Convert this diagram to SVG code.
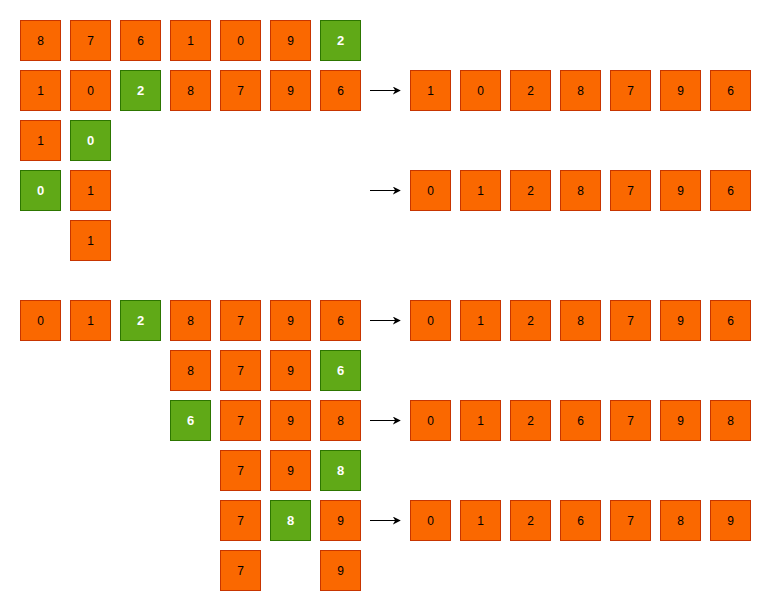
<svg xmlns="http://www.w3.org/2000/svg" width="771" height="611" viewBox="0 0 771 611">
<style>
.o rect{fill:#fa6800;stroke:#c73500;stroke-width:1}
.g rect{fill:#60a917;stroke:#2d7600;stroke-width:1}
text{font-family:"Liberation Sans",Arial,sans-serif;text-anchor:middle;dominant-baseline:central}
.o text{font-size:12px;fill:#000}
.g text{font-size:13px;fill:#fff;font-weight:bold}
.c line{stroke:#000;stroke-width:1;marker-end:url(#a)}
</style>
<defs>
<marker id="a" viewBox="0 0 10 10" refX="9" refY="5" markerWidth="8" markerHeight="8" markerUnits="userSpaceOnUse" orient="auto"><path d="M0,0 L10,5 L0,10 L3,5 Z" fill="#000"/></marker>
</defs>
<rect width="771" height="611" fill="#fff"/>
<g id="r1">
<g id="n1_0" class="o"><rect x="20.5" y="20.5" width="40" height="40"/><text x="40.5" y="40.5">8</text></g>
<g id="n1_1" class="o"><rect x="70.5" y="20.5" width="40" height="40"/><text x="90.5" y="40.5">7</text></g>
<g id="n1_2" class="o"><rect x="120.5" y="20.5" width="40" height="40"/><text x="140.5" y="40.5">6</text></g>
<g id="n1_3" class="o"><rect x="170.5" y="20.5" width="40" height="40"/><text x="190.5" y="40.5">1</text></g>
<g id="n1_4" class="o"><rect x="220.5" y="20.5" width="40" height="40"/><text x="240.5" y="40.5">0</text></g>
<g id="n1_5" class="o"><rect x="270.5" y="20.5" width="40" height="40"/><text x="290.5" y="40.5">9</text></g>
<g id="n1_6" class="g"><rect x="320.5" y="20.5" width="40" height="40"/><text x="340.5" y="40.5">2</text></g>
</g>
<g id="r2">
<g id="n2_0" class="o"><rect x="20.5" y="70.5" width="40" height="40"/><text x="40.5" y="90.5">1</text></g>
<g id="n2_1" class="o"><rect x="70.5" y="70.5" width="40" height="40"/><text x="90.5" y="90.5">0</text></g>
<g id="n2_2" class="g"><rect x="120.5" y="70.5" width="40" height="40"/><text x="140.5" y="90.5">2</text></g>
<g id="n2_3" class="o"><rect x="170.5" y="70.5" width="40" height="40"/><text x="190.5" y="90.5">8</text></g>
<g id="n2_4" class="o"><rect x="220.5" y="70.5" width="40" height="40"/><text x="240.5" y="90.5">7</text></g>
<g id="n2_5" class="o"><rect x="270.5" y="70.5" width="40" height="40"/><text x="290.5" y="90.5">9</text></g>
<g id="n2_6" class="o"><rect x="320.5" y="70.5" width="40" height="40"/><text x="340.5" y="90.5">6</text></g>
<g id="m2_0" class="o"><rect x="410.5" y="70.5" width="40" height="40"/><text x="430.5" y="90.5">1</text></g>
<g id="m2_1" class="o"><rect x="460.5" y="70.5" width="40" height="40"/><text x="480.5" y="90.5">0</text></g>
<g id="m2_2" class="o"><rect x="510.5" y="70.5" width="40" height="40"/><text x="530.5" y="90.5">2</text></g>
<g id="m2_3" class="o"><rect x="560.5" y="70.5" width="40" height="40"/><text x="580.5" y="90.5">8</text></g>
<g id="m2_4" class="o"><rect x="610.5" y="70.5" width="40" height="40"/><text x="630.5" y="90.5">7</text></g>
<g id="m2_5" class="o"><rect x="660.5" y="70.5" width="40" height="40"/><text x="680.5" y="90.5">9</text></g>
<g id="m2_6" class="o"><rect x="710.5" y="70.5" width="40" height="40"/><text x="730.5" y="90.5">6</text></g>
</g>
<g id="r3">
<g id="n3_0" class="o"><rect x="20.5" y="120.5" width="40" height="40"/><text x="40.5" y="140.5">1</text></g>
<g id="n3_1" class="g"><rect x="70.5" y="120.5" width="40" height="40"/><text x="90.5" y="140.5">0</text></g>
</g>
<g id="r4">
<g id="n4_0" class="g"><rect x="20.5" y="170.5" width="40" height="40"/><text x="40.5" y="190.5">0</text></g>
<g id="n4_1" class="o"><rect x="70.5" y="170.5" width="40" height="40"/><text x="90.5" y="190.5">1</text></g>
<g id="m4_0" class="o"><rect x="410.5" y="170.5" width="40" height="40"/><text x="430.5" y="190.5">0</text></g>
<g id="m4_1" class="o"><rect x="460.5" y="170.5" width="40" height="40"/><text x="480.5" y="190.5">1</text></g>
<g id="m4_2" class="o"><rect x="510.5" y="170.5" width="40" height="40"/><text x="530.5" y="190.5">2</text></g>
<g id="m4_3" class="o"><rect x="560.5" y="170.5" width="40" height="40"/><text x="580.5" y="190.5">8</text></g>
<g id="m4_4" class="o"><rect x="610.5" y="170.5" width="40" height="40"/><text x="630.5" y="190.5">7</text></g>
<g id="m4_5" class="o"><rect x="660.5" y="170.5" width="40" height="40"/><text x="680.5" y="190.5">9</text></g>
<g id="m4_6" class="o"><rect x="710.5" y="170.5" width="40" height="40"/><text x="730.5" y="190.5">6</text></g>
</g>
<g id="r5">
<g id="n5_1" class="o"><rect x="70.5" y="220.5" width="40" height="40"/><text x="90.5" y="240.5">1</text></g>
</g>
<g id="r6">
<g id="n6_0" class="o"><rect x="20.5" y="300.5" width="40" height="40"/><text x="40.5" y="320.5">0</text></g>
<g id="n6_1" class="o"><rect x="70.5" y="300.5" width="40" height="40"/><text x="90.5" y="320.5">1</text></g>
<g id="n6_2" class="g"><rect x="120.5" y="300.5" width="40" height="40"/><text x="140.5" y="320.5">2</text></g>
<g id="n6_3" class="o"><rect x="170.5" y="300.5" width="40" height="40"/><text x="190.5" y="320.5">8</text></g>
<g id="n6_4" class="o"><rect x="220.5" y="300.5" width="40" height="40"/><text x="240.5" y="320.5">7</text></g>
<g id="n6_5" class="o"><rect x="270.5" y="300.5" width="40" height="40"/><text x="290.5" y="320.5">9</text></g>
<g id="n6_6" class="o"><rect x="320.5" y="300.5" width="40" height="40"/><text x="340.5" y="320.5">6</text></g>
<g id="m6_0" class="o"><rect x="410.5" y="300.5" width="40" height="40"/><text x="430.5" y="320.5">0</text></g>
<g id="m6_1" class="o"><rect x="460.5" y="300.5" width="40" height="40"/><text x="480.5" y="320.5">1</text></g>
<g id="m6_2" class="o"><rect x="510.5" y="300.5" width="40" height="40"/><text x="530.5" y="320.5">2</text></g>
<g id="m6_3" class="o"><rect x="560.5" y="300.5" width="40" height="40"/><text x="580.5" y="320.5">8</text></g>
<g id="m6_4" class="o"><rect x="610.5" y="300.5" width="40" height="40"/><text x="630.5" y="320.5">7</text></g>
<g id="m6_5" class="o"><rect x="660.5" y="300.5" width="40" height="40"/><text x="680.5" y="320.5">9</text></g>
<g id="m6_6" class="o"><rect x="710.5" y="300.5" width="40" height="40"/><text x="730.5" y="320.5">6</text></g>
</g>
<g id="r7">
<g id="n7_3" class="o"><rect x="170.5" y="350.5" width="40" height="40"/><text x="190.5" y="370.5">8</text></g>
<g id="n7_4" class="o"><rect x="220.5" y="350.5" width="40" height="40"/><text x="240.5" y="370.5">7</text></g>
<g id="n7_5" class="o"><rect x="270.5" y="350.5" width="40" height="40"/><text x="290.5" y="370.5">9</text></g>
<g id="n7_6" class="g"><rect x="320.5" y="350.5" width="40" height="40"/><text x="340.5" y="370.5">6</text></g>
</g>
<g id="r8">
<g id="n8_3" class="g"><rect x="170.5" y="400.5" width="40" height="40"/><text x="190.5" y="420.5">6</text></g>
<g id="n8_4" class="o"><rect x="220.5" y="400.5" width="40" height="40"/><text x="240.5" y="420.5">7</text></g>
<g id="n8_5" class="o"><rect x="270.5" y="400.5" width="40" height="40"/><text x="290.5" y="420.5">9</text></g>
<g id="n8_6" class="o"><rect x="320.5" y="400.5" width="40" height="40"/><text x="340.5" y="420.5">8</text></g>
<g id="m8_0" class="o"><rect x="410.5" y="400.5" width="40" height="40"/><text x="430.5" y="420.5">0</text></g>
<g id="m8_1" class="o"><rect x="460.5" y="400.5" width="40" height="40"/><text x="480.5" y="420.5">1</text></g>
<g id="m8_2" class="o"><rect x="510.5" y="400.5" width="40" height="40"/><text x="530.5" y="420.5">2</text></g>
<g id="m8_3" class="o"><rect x="560.5" y="400.5" width="40" height="40"/><text x="580.5" y="420.5">6</text></g>
<g id="m8_4" class="o"><rect x="610.5" y="400.5" width="40" height="40"/><text x="630.5" y="420.5">7</text></g>
<g id="m8_5" class="o"><rect x="660.5" y="400.5" width="40" height="40"/><text x="680.5" y="420.5">9</text></g>
<g id="m8_6" class="o"><rect x="710.5" y="400.5" width="40" height="40"/><text x="730.5" y="420.5">8</text></g>
</g>
<g id="r9">
<g id="n9_4" class="o"><rect x="220.5" y="450.5" width="40" height="40"/><text x="240.5" y="470.5">7</text></g>
<g id="n9_5" class="o"><rect x="270.5" y="450.5" width="40" height="40"/><text x="290.5" y="470.5">9</text></g>
<g id="n9_6" class="g"><rect x="320.5" y="450.5" width="40" height="40"/><text x="340.5" y="470.5">8</text></g>
</g>
<g id="r10">
<g id="n10_4" class="o"><rect x="220.5" y="500.5" width="40" height="40"/><text x="240.5" y="520.5">7</text></g>
<g id="n10_5" class="g"><rect x="270.5" y="500.5" width="40" height="40"/><text x="290.5" y="520.5">8</text></g>
<g id="n10_6" class="o"><rect x="320.5" y="500.5" width="40" height="40"/><text x="340.5" y="520.5">9</text></g>
<g id="m10_0" class="o"><rect x="410.5" y="500.5" width="40" height="40"/><text x="430.5" y="520.5">0</text></g>
<g id="m10_1" class="o"><rect x="460.5" y="500.5" width="40" height="40"/><text x="480.5" y="520.5">1</text></g>
<g id="m10_2" class="o"><rect x="510.5" y="500.5" width="40" height="40"/><text x="530.5" y="520.5">2</text></g>
<g id="m10_3" class="o"><rect x="560.5" y="500.5" width="40" height="40"/><text x="580.5" y="520.5">6</text></g>
<g id="m10_4" class="o"><rect x="610.5" y="500.5" width="40" height="40"/><text x="630.5" y="520.5">7</text></g>
<g id="m10_5" class="o"><rect x="660.5" y="500.5" width="40" height="40"/><text x="680.5" y="520.5">8</text></g>
<g id="m10_6" class="o"><rect x="710.5" y="500.5" width="40" height="40"/><text x="730.5" y="520.5">9</text></g>
</g>
<g id="r11">
<g id="n11_4" class="o"><rect x="220.5" y="550.5" width="40" height="40"/><text x="240.5" y="570.5">7</text></g>
<g id="n11_6" class="o"><rect x="320.5" y="550.5" width="40" height="40"/><text x="340.5" y="570.5">9</text></g>
</g>
<g id="connectors" class="c">
<line x1="370" y1="90.5" x2="400" y2="90.5"/>
<line x1="370" y1="190.5" x2="400" y2="190.5"/>
<line x1="370" y1="320.5" x2="400" y2="320.5"/>
<line x1="370" y1="420.5" x2="400" y2="420.5"/>
<line x1="370" y1="520.5" x2="400" y2="520.5"/>
</g>
</svg>
